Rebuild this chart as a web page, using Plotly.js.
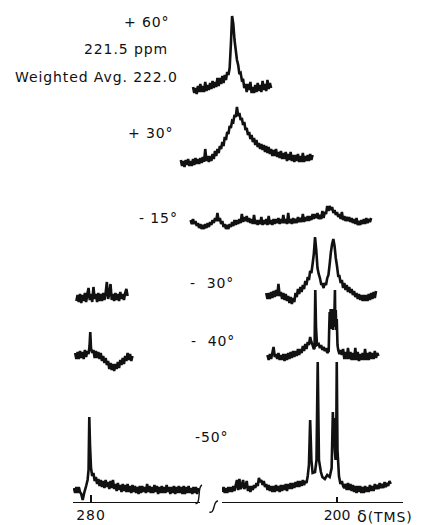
<!DOCTYPE html>
<html><head><meta charset="utf-8">
<script src="https://cdn.plot.ly/plotly-3.0.1.min.js"></script>
<style>
html,body{margin:0;padding:0;background:#fff;}
#chart{width:423px;height:525px;}
.annotation-text, .xtick text {letter-spacing:0.9px;}
</style></head><body><div id="chart"></div>
<script>
// ---- DATA (chemical shift in ppm, intensity in arbitrary units) ----
// +60 deg
const ppm_p60 = [229.5,229.25,229,228.75,228.5,228.25,228,227.75,227.5,227.25,
227,226.75,226.5,226.25,226,225.75,225.5,225.25,225,224.75,
224.5,224.25,224,223.75,223.5,223.25,223,222.75,222.5,222.25,
222,221.75,221.5,221.25,221,220.75,220.5,220.25,220,219.75,
219.5,219.25,219,218.75,218.5,218.25,218,217.75,217.5,217.25,
217,216.75,216.5,216.25,216,215.75,215.5,215.25,215,214.75,
214.5,214.25,214,213.75,213.5];
const int_p60 = [3,-3,2,-4,4,-2,6,-2,4,-2,
8,-1,5,0,7,1,9,2,8,3,
12,4,12,6,14,7,15,10,18,15,
22,45,74,66,50,40,30,25,16,17,
10,11,2,6,-2,6,0,8,-3,3,
-3,5,-2,7,-1,5,-2,9,0,6,
-1,10,1,7,2];
// +30 deg
const ppm_p30 = [232,231.75,231.5,231.25,231,230.75,230.5,230.25,230,229.75,
229.5,229.25,229,228.75,228.5,228.25,228,227.75,227.5,227.25,
227,226.75,226.5,226.25,226,225.75,225.5,225.25,225,224.75,
224.5,224.25,224,223.75,223.5,223.25,223,222.75,222.5,222.25,
222,221.75,221.5,221.25,221,220.75,220.5,220.25,220,219.75,
219.5,219.25,219,218.75,218.5,218.25,218,217.75,217.5,217.25,
217,216.75,216.5,216.25,216,215.75,215.5,215.25,215,214.75,
214.5,214.25,214,213.75,213.5,213.25,213,212.75,212.5,212.25,
212,211.75,211.5,211.25,211,210.75,210.5,210.25,210,209.75,
209.5,209.25,209,208.75,208.5,208.25,208,207.75,207.5,207.25,
207,206.75,206.5,206.25,206,205.75,205.5,205.25,205];
const int_p30 = [3,-3,2,-4,3,-2,4,-3,2,-3,
4,-2,5,-1,4,-1,5,0,6,1,
14,2,7,1,7,2,9,4,12,7,
14,10,17,14,21,17,26,23,31,29,
37,35,42,41,48,46,56,47,50,43,
45,38,41,33,35,28,31,24,28,21,
25,18,23,16,20,14,19,13,18,11,
17,10,16,9,14,7,13,7,14,6,
11,5,12,4,10,4,11,2,9,3,
11,2,8,1,8,2,9,1,7,1,
10,1,7,2,8,2,9,3,8];
// -15 deg
const ppm_m15 = [230,229.75,229.5,229.25,229,228.75,228.5,228.25,228,227.75,
227.5,227.25,227,226.75,226.5,226.25,226,225.75,225.5,225.25,
225,224.75,224.5,224.25,224,223.75,223.5,223.25,223,222.75,
222.5,222.25,222,221.75,221.5,221.25,221,220.75,220.5,220.25,
220,219.75,219.5,219.25,219,218.75,218.5,218.25,218,217.75,
217.5,217.25,217,216.75,216.5,216.25,216,215.75,215.5,215.25,
215,214.75,214.5,214.25,214,213.75,213.5,213.25,213,212.75,
212.5,212.25,212,211.75,211.5,211.25,211,210.75,210.5,210.25,
210,209.75,209.5,209.25,209,208.75,208.5,208.25,208,207.75,
207.5,207.25,207,206.75,206.5,206.25,206,205.75,205.5,205.25,
205,204.75,204.5,204.25,204,203.75,203.5,203.25,203,202.75,
202.5,202.25,202,201.75,201.5,201.25,201,200.75,200.5,200.25,
200,199.75,199.5,199.25,199,198.75,198.5,198.25,198,197.75,
197.5,197.25,197,196.75,196.5,196.25,196,195.75,195.5,195.25,
195,194.75,194.5,194.25,194,193.75,193.5,193.25,193];
const int_m15 = [3,-1,4,-1,2,-3,0,-5,-1,-6,
-2,-6,-1,-5,0,-4,1,-2,3,0,
5,2,10,2,5,-1,2,-4,-1,-6,
-2,-6,-1,-4,1,-3,3,-2,3,-1,
4,0,9,1,6,2,7,1,5,0,
4,-1,8,-1,3,-2,3,-1,6,-2,
3,-1,4,-2,7,-1,3,-2,4,-1,
4,0,5,-1,4,0,8,0,4,-1,
10,0,4,-1,5,0,4,0,6,1,
5,1,9,1,6,2,7,2,7,3,
9,4,9,5,10,4,8,4,12,5,
11,9,17,12,17,13,16,10,13,8,
11,6,9,4,11,3,7,2,6,2,
6,1,5,0,4,-1,5,-2,2,-2,
3,-1,4,-1,5,0,4,1,5];
// -30 deg (left part near 280, right part near 200)
const ppm_m30l = [283,282.75,282.5,282.25,282,281.75,281.5,281.25,281,280.75,
280.5,280.25,280,279.75,279.5,279.25,279,278.75,278.5,278.25,
278,277.75,277.5,277.25,277,276.75,276.5,276.25,276,275.75,
275.5,275.25,275,274.75,274.5,274.25,274,273.75,273.5,273.25,
273,272.75,272.5];
const int_m30l = [-3,3,-4,4,-5,3,-3,5,-4,4,
10,-2,4,-4,11,-1,4,-4,5,-3,
4,-3,5,-2,5,16,-1,4,14,-2,
4,-3,5,-2,4,-3,6,-1,4,-2,
5,9,2];
const ppm_m30r = [214.5,214.25,214,213.75,213.5,213.25,213,212.75,212.5,212.25,
212,211.75,211.5,211.25,211,210.75,210.5,210.25,210,209.75,
209.5,209.25,209,208.75,208.5,208.25,208,207.75,207.5,207.25,
207,206.75,206.5,206.25,206,205.75,205.5,205.25,205,204.75,
204.5,204.25,204,203.75,203.5,203.25,203,202.75,202.5,202.25,
202,201.75,201.5,201.25,201,200.75,200.5,200.25,200,199.75,
199.5,199.25,199,198.75,198.5,198.25,198,197.75,197.5,197.25,
197,196.75,196.5,196.25,196,195.75,195.5,195.25,195,194.75,
194.5,194.25,194,193.75,193.5,193.25,193,192.75,192.5,192.25,
192];
const int_m30r = [3,-3,3,-3,4,-2,5,-1,6,0,
12,0,4,-3,3,-4,2,-5,0,-7,
-1,-8,-2,-6,3,-1,7,2,9,4,
11,7,15,11,19,16,25,23,32,42,
59,46,28,22,18,12,12,8,13,11,
18,21,32,44,52,57,50,38,30,20,
20,13,16,8,13,6,11,4,9,3,
7,1,5,-1,3,-3,2,-4,1,-5,
1,-5,1,-5,2,-4,3,-3,4,-2,
5];
// -40 deg
const ppm_m40l = [283.25,283,282.75,282.5,282.25,282,281.75,281.5,281.25,281,
280.75,280.5,280.3,280.15,280,279.75,279.5,279.25,279,278.75,
278.5,278.25,278,277.75,277.5,277.25,277,276.75,276.5,276.25,
276,275.75,275.5,275.25,275,274.75,274.5,274.25,274,273.75,
273.5,273.25,273,272.75,272.5,272.25,272,271.75,271.5];
const int_m40l = [3,-3,4,-3,5,-2,4,-3,6,-1,
5,2,10,24,8,3,6,-2,5,-2,
4,-3,3,-5,0,-7,-2,-9,-5,-13,
-7,-14,-8,-15,-8,-13,-6,-12,-4,-9,
-2,-8,0,-5,3,-4,2,-5,0];
const ppm_m40r = [214.25,214,213.75,213.5,213.25,213,212.75,212.5,212.25,212,
211.75,211.5,211.25,211,210.75,210.5,210.25,210,209.75,209.5,
209.25,209,208.75,208.5,208.25,208,207.75,207.5,207.25,207,
206.75,206.5,206.25,206,205.75,205.5,205.25,205,204.75,204.6,
204.45,204.3,204.1,203.75,203.5,203.25,203,202.75,202.5,202.25,
202,201.7,201.6,201.5,201.4,201.3,201.2,201.1,201.0,200.9,
200.8,200.7,200.6,200.5,200.42,200.35,200.25,200.15,200.05,199.9,
199.75,199.5,199.25,199,198.75,198.5,198.25,198,197.75,197.5,
197.25,197,196.75,196.5,196.25,196,195.75,195.5,195.25,195,
194.75,194.5,194.25,194,193.75,193.5,193.25,193,192.75,192.5,
192.25,192,191.75,191.5];
const int_m40r = [2,-3,3,-2,4,10,0,3,-2,4,
-3,2,-3,3,-4,3,-3,4,-2,5,
-1,6,0,6,1,8,2,8,4,11,
6,13,8,15,12,20,15,12,8,9,
67,30,12,13,9,12,7,10,6,9,
4,6,28,45,30,48,28,46,30,48,
27,45,30,50,67,30,47,27,38,12,
7,3,7,2,8,-2,5,-2,9,-2,
5,-3,4,-3,9,-3,5,-4,3,-3,
4,-3,8,-3,4,-3,5,-2,4,-2,
6,-1,4,1];
// -50 deg
const ppm_m50l = [283.5,283.25,283,282.75,282.5,282.25,282,281.7,281.4,281,
280.7,280.5,280.35,280.2,280,279.75,279.5,279.25,279,278.75,
278.5,278.25,278,277.75,277.5,277.25,277,276.75,276.5,276.25,
276,275.75,275.5,275.25,275,274.75,274.5,274.25,274,273.75,
273.5,273.25,273,272.75,272.5,272.25,272,271.75,271.5,271.25,
271,270.75,270.5,270.25,270,269.75,269.5,269.25,269,268.75,
268.5,268.25,268,267.75,267.5,267.25,267,266.75,266.5,266.25,
266,265.75,265.5,265.25,265,264.75,264.5,264.25,264,263.75,
263.5,263.25,263,262.75,262.5,262.25,262,261.75,261.5,261.25,
261,260.75,260.5,260.25,260,259.75,259.5,259.25,259,258.75,
258.5,258.25,258];
const int_m50l = [2,-3,3,-3,3,-2,-4,-10,-3,4,
10,20,73,45,22,14,17,9,13,6,
11,4,10,3,9,2,10,3,8,1,
9,2,10,1,6,-1,7,0,5,-2,
6,-1,5,-2,6,-2,4,-3,5,-2,
4,-3,3,-4,4,-3,4,-2,3,-3,
6,-2,4,-3,3,-3,5,-2,4,-4,
3,-3,4,-3,3,-3,5,-2,3,-4,
3,-3,4,-4,3,-3,4,-3,3,-4,
4,-4,3,-3,4,-3,2,-4,3,-3,
3,-4,2];
const ppm_m50r = [223.5,223.25,223,222.75,222.5,222.25,222,221.75,221.5,221.25,
221,220.75,220.5,220.25,220,219.75,219.5,219.25,219,218.75,
218.5,218.25,218,217.75,217.5,217.25,217,216.75,216.5,216.25,
216,215.75,215.5,215.25,215,214.75,214.5,214.25,214,213.75,
213.5,213.25,213,212.75,212.5,212.25,212,211.75,211.5,211.25,
211,210.75,210.5,210.25,210,209.75,209.5,209.25,209,208.75,
208.5,208.25,208,207.75,207.5,207.25,207,206.75,206.5,206.25,
206,205.75,205.5,205.25,205,204.5,204.2,203.95,203.7,203.3,
203,202.5,202,201.5,201.1,200.85,200.7,200.6,200.45,200.3,
200.15,200.05,199.9,199.6,199.3,199,198.75,198.5,198.25,198,
197.75,197.5,197.25,197,196.75,196.5,196.25,196,195.75,195.5,
195.25,195,194.75,194.5,194.25,194,193.75,193.5,193.25,193,
192.75,192.5,192.25,192,191.75,191.5,191.25,191,190.75,190.5,
190.25,190,189.75,189.5,189.25,189];
const int_m50r = [-2,3,-3,2,-3,3,-2,3,-2,4,
-1,5,10,0,11,1,4,10,1,4,
9,-1,4,-2,4,0,5,2,7,4,
12,8,10,5,9,3,6,0,5,-1,
4,-2,4,-2,5,-1,4,-2,5,-1,
5,0,6,-1,6,1,7,1,7,2,
8,3,9,3,9,4,10,5,9,7,
14,25,70,30,17,18,30,128,30,18,
13,11,15,13,22,78,50,72,40,30,
55,128,40,14,6,9,4,2,6,0,
7,0,6,-1,5,-2,4,-3,4,-2,
4,-3,3,-3,4,-2,3,-2,5,-1,
4,-1,6,1,5,1,7,2,6,2,
8,3,7,4,9,6];

// tick labels
const leftTickVals = [280],  leftTickText = ['280'];
const rightTickVals = [200], rightTickText = ['200'];
const unitLabel = '<span style="font-size:16px">δ</span>(TMS)';
// temperature / caption labels
const labelTexts = ['+ 60°', '221.5 ppm', 'Weighted Avg. 222.0', '+ 30°', '- 15°', '-  30°', '-  40°', '-50°'];

// ---- LAYOUT CONFIG (positions / styles) ----
const W = 423, H = 525;
const INK = '#111';
const FONT = {family: 'DejaVu Sans', size: 14, color: INK};
// spectra: [ppm, intensity, x-axis, vertical offset]
const spectra = [
  [ppm_p60, int_p60, 'x3', 412],
  [ppm_p30, int_p30, 'x3', 339],
  [ppm_m15, int_m15, 'x3', 279],
  [ppm_m30l, int_m30l, 'x', 204],
  [ppm_m30r, int_m30r, 'x2', 206],
  [ppm_m40l, int_m40l, 'x', 146],
  [ppm_m40r, int_m40r, 'x2', 145],
  [ppm_m50l, int_m50l, 'x', 12],
  [ppm_m50r, int_m50r, 'x2', 12]
];
const labelPos = [[122,22],[82,49],[13,77],[126,133],[137,218],[188,283],[189,341],[193,437]];

const traces = spectra.map(([xs, ys, xa, off]) => ({
  x: xs, y: ys.map(v => v + off), xaxis: xa, yaxis: 'y',
  type: 'scatter', mode: 'lines', hoverinfo: 'skip',
  line: {color: INK, width: 2.6, simplify: false}
}));

const pxs = 4.88; // px per ppm
const axBase = {showgrid:false, zeroline:false, fixedrange:true, anchor:'y'};
const layout = {
  width: W, height: H, margin: {l:0, r:0, t:0, b:0},
  paper_bgcolor: '#fff', plot_bgcolor: 'rgba(0,0,0,0)', showlegend: false,
  xaxis: Object.assign({}, axBase, {
    domain: [73/W, 200/W], range: [280 + 18/pxs, 280 - 109/pxs],
    showline: true, linecolor: INK, linewidth: 1.3,
    ticks: 'inside', ticklen: 7, tickwidth: 1.3, tickcolor: INK,
    tickmode: 'array', tickvals: leftTickVals, ticktext: leftTickText, tickfont: FONT
  }),
  xaxis2: Object.assign({}, axBase, {
    domain: [222/W, 403/W], range: [200 + 115/pxs, 200 - 66/pxs],
    showline: true, linecolor: INK, linewidth: 1.3,
    ticks: 'inside', ticklen: 5, tickwidth: 1.3, tickcolor: INK,
    tickmode: 'array', tickvals: rightTickVals, ticktext: rightTickText, tickfont: FONT
  }),
  xaxis3: Object.assign({}, axBase, {
    domain: [170/W, 1], range: [200 + 167/pxs, 200 - 86/pxs],
    showline: false, ticks: '', showticklabels: false
  }),
  yaxis: {domain: [23/H, 1], range: [0, 502], showgrid:false, zeroline:false,
    showline:false, ticks:'', showticklabels:false, fixedrange:true},
  annotations: labelTexts.map((t, i) => ({
    text: t, xref: 'paper', yref: 'paper',
    x: labelPos[i][0]/W, y: 1 - labelPos[i][1]/H,
    xanchor: 'left', yanchor: 'middle', showarrow: false, font: FONT
  })).concat([{
    text: unitLabel, xref: 'paper', yref: 'paper', x: 355/W, y: 1 - 516/H,
    xanchor: 'left', yanchor: 'middle', showarrow: false, font: FONT
  }]),
  shapes: []
};
// axis break marks
function P(x, y){ return (x/W).toFixed(5) + ',' + (1 - y/H).toFixed(5); }
layout.shapes.push({type:'path', xref:'paper', yref:'paper', line:{color:INK, width:1.4},
  path: 'M' + P(202,485) + ' C' + P(199,486) + ' ' + P(199.5,492) + ' ' + P(199,496) +
        ' C' + P(198.5,501) + ' ' + P(198,504) + ' ' + P(195.5,503.5)});
layout.shapes.push({type:'path', xref:'paper', yref:'paper', line:{color:INK, width:1.4},
  path: 'M' + P(218,501) + ' C' + P(215,501) + ' ' + P(215,504) + ' ' + P(214,507) +
        ' C' + P(213,511) + ' ' + P(212,513) + ' ' + P(209.5,512)});

Plotly.newPlot('chart', traces, layout, {staticPlot: true, displayModeBar: false});
</script></body></html>
